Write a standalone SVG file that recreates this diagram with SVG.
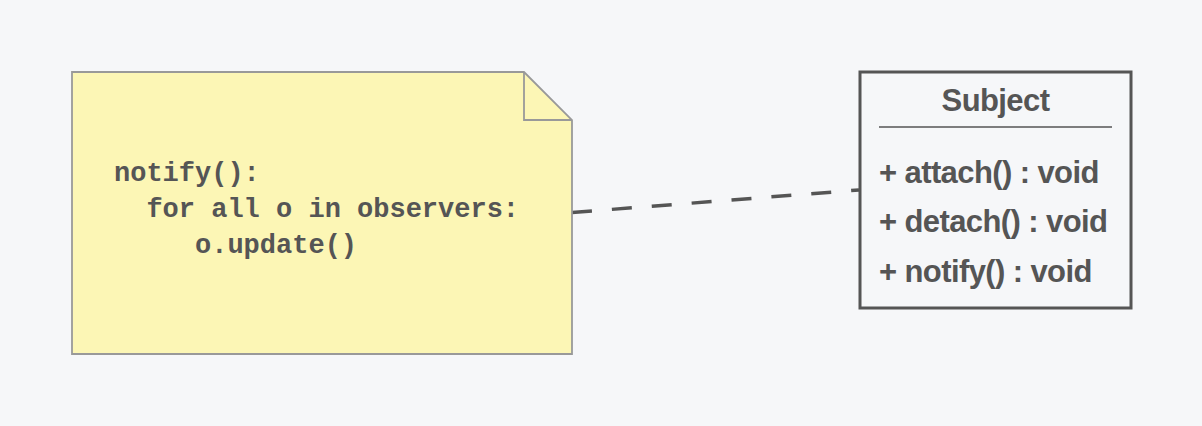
<svg xmlns="http://www.w3.org/2000/svg" width="1202" height="426" viewBox="0 0 1202 426">
<style>
.code{font-family:"Liberation Mono","Courier New",monospace;font-weight:bold;font-size:27px;fill:#555}
.cls{font-family:"Liberation Sans",Arial,sans-serif;font-weight:bold;font-size:31px;letter-spacing:-0.6px;fill:#555}
</style>
<rect width="1202" height="426" fill="#f6f7f9"/>
<g id="connectors">
<line x1="572" y1="212.5" x2="859" y2="190" stroke="#555" stroke-width="3.5" stroke-dasharray="20 20"/>
</g>
<g id="note">
<path d="M72 72 H524 L572 120 V354 H72 Z" fill="#fcf6b5" stroke="#999" stroke-width="1.8"/>
<path d="M524 72 V120 H572" fill="none" stroke="#999" stroke-width="1.8"/>
<text class="code" x="114" y="181" xml:space="preserve">notify():</text>
<text class="code" x="114" y="217" xml:space="preserve">  for all o in observers:</text>
<text class="code" x="114" y="253" xml:space="preserve">     o.update()</text>
</g>
<g id="subject">
<rect x="860" y="72" width="271" height="236" fill="none" stroke="#555" stroke-width="3"/>
<text class="cls" x="995.5" y="111" text-anchor="middle">Subject</text>
<line x1="879" y1="127" x2="1112" y2="127" stroke="#555" stroke-width="1.6"/>
<text class="cls" x="879" y="183">+ attach() : void</text>
<text class="cls" x="879" y="232">+ detach() : void</text>
<text class="cls" x="879" y="282">+ notify() : void</text>
</g>
</svg>
